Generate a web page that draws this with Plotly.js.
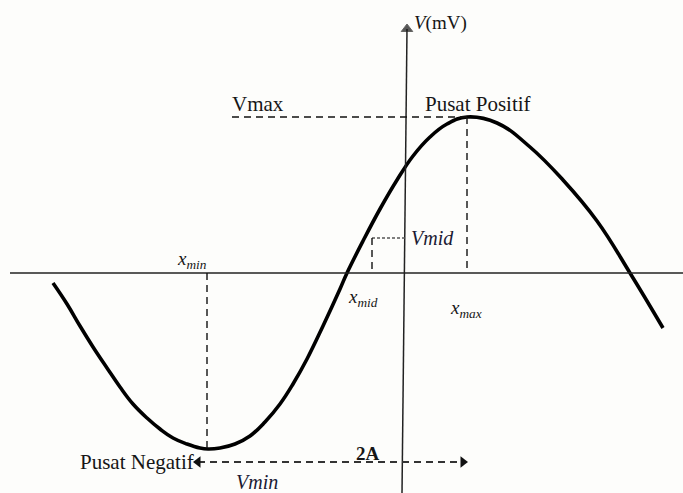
<!DOCTYPE html>
<html>
<head>
<meta charset="utf-8">
<script src="https://cdn.plot.ly/plotly-3.0.1.min.js"></script>
<style>
  html, body { margin: 0; padding: 0; background: #fdfdfb; }
  #chart { width: 683px; height: 493px; }
</style>
</head>
<body>
<div id="chart"></div>
<script>
// curve (origin = where the two axes cross)
var waveX = [-352, -338, -325, -312, -298, -285, -272, -258, -245, -232, -218, -205, -197,
             -185, -170, -155, -140, -125, -112, -98, -82, -65, -58, -42, -25, -8, 8,
             25, 42, 62, 92, 125, 158, 192, 225, 258];
var waveY = [-10, -31, -53, -74, -95, -114, -131, -145, -156, -165, -171, -175, -176,
             -175, -171, -163, -149, -131, -111, -86, -53, -16, 0, 32, 64, 93, 117,
             136, 149, 156, 150, 126, 93, 52, 0, -55];

// key points
var xMin = -198, vMin = -176;
var xMax = 62, vMax = 156;
var xMid = -33, vMid = 35;
var vMaxStart = -173;

// axes
var axisX = [-395, 278];
var axisYx = [-3, 2], axisYy = [-220, 244];

// 2A double arrow
var spanX = [-207, 58];
var spanY = [-189, -189];

var serif = 'Liberation Serif, Times New Roman, serif';
var ink = '#161616';

var wave = {
  x: waveX, y: waveY,
  mode: 'lines',
  line: {color: '#000', width: 3.6, shape: 'spline', smoothing: 1.2},
  hoverinfo: 'skip'
};

var vAxis = {
  x: axisYx, y: axisYy,
  mode: 'lines+markers',
  line: {color: '#222', width: 1.5},
  marker: {symbol: ['circle', 'triangle-up'], size: [0, 10], color: '#111'},
  hoverinfo: 'skip'
};

var span = {
  x: spanX, y: spanY,
  mode: 'lines+markers',
  line: {color: '#333', width: 1.8, dash: '7px,5px'},
  marker: {symbol: ['triangle-left', 'triangle-right'], size: 10, color: '#111'},
  hoverinfo: 'skip'
};

var dash = {color: '#111', width: 1.4, dash: '7px,5px'};

var layout = {
  width: 683, height: 493,
  margin: {l: 0, r: 0, t: 0, b: 0},
  paper_bgcolor: '#fdfdfb',
  plot_bgcolor: '#fdfdfb',
  showlegend: false,
  xaxis: {range: [-405, 278], visible: false, fixedrange: true},
  yaxis: {range: [-220, 273], visible: false, fixedrange: true},
  shapes: [
    // horizontal axis
    {type: 'line', x0: axisX[0], x1: axisX[1], y0: 0, y1: 0,
     line: {color: '#222', width: 1.6}},
    // Vmax level
    {type: 'line', x0: vMaxStart, x1: xMax, y0: vMax, y1: vMax, line: dash},
    // xmax drop
    {type: 'line', x0: xMax, x1: xMax, y0: vMax, y1: 0, line: dash},
    // xmin drop
    {type: 'line', x0: xMin, x1: xMin, y0: 0, y1: vMin, line: dash},
    // Vmid
    {type: 'line', x0: xMid, x1: 0, y0: vMid, y1: vMid,
     line: {color: '#555', width: 1.3, dash: '3px,2px'}},
    {type: 'line', x0: xMid, x1: xMid, y0: vMid, y1: 0, line: dash}
  ],
  annotations: [
    {x: 7, y: 250, text: '<i>V</i>(mV)', showarrow: false, xanchor: 'left',
     font: {family: serif, size: 19, color: ink}},
    {x: -147, y: 169, text: 'Vmax', showarrow: false,
     font: {family: serif, size: 21, color: ink}},
    {x: 73, y: 169, text: 'Pusat Positif', showarrow: false,
     font: {family: serif, size: 21, color: ink}},
    {x: 4, y: 35, text: '<i>Vmid</i>', showarrow: false, xanchor: 'left',
     font: {family: serif, size: 20, color: '#1a1a33'}},
    {x: -213, y: 13, text: '<i>x</i><sub><i>min</i></sub>', showarrow: false,
     font: {family: serif, size: 19, color: ink}},
    {x: -42, y: -25, text: '<i>x</i><sub><i>mid</i></sub>', showarrow: false,
     font: {family: serif, size: 19, color: ink}},
    {x: 61, y: -36, text: '<i>x</i><sub><i>max</i></sub>', showarrow: false,
     font: {family: serif, size: 19, color: ink}},
    {x: -209, y: -189, text: 'Pusat Negatif', showarrow: false, xanchor: 'right',
     font: {family: serif, size: 21, color: ink}},
    {x: -37, y: -180, text: '<b>2A</b>', showarrow: false,
     font: {family: serif, size: 19, color: ink}},
    {x: -148, y: -209, text: '<i>Vmin</i>', showarrow: false,
     font: {family: serif, size: 20, color: '#1a1a33'}}
  ]
};

Plotly.newPlot('chart', [wave, vAxis, span], layout, {staticPlot: true, displayModeBar: false});
</script>
</body>
</html>
